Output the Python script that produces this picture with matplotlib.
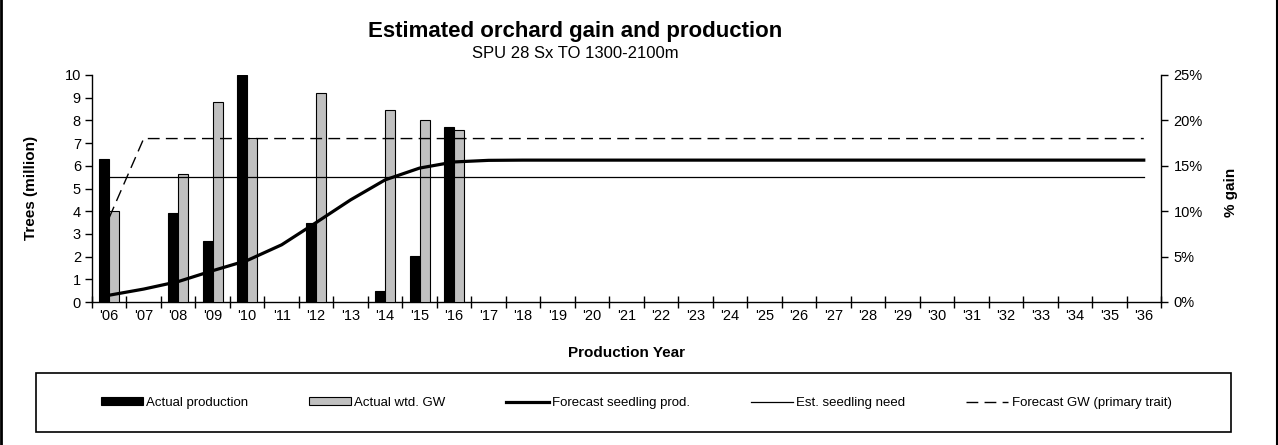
import numpy as np
import matplotlib
matplotlib.use('Agg')
import matplotlib.pyplot as plt
from matplotlib.lines import Line2D
from matplotlib.patches import Patch, Rectangle
from matplotlib.ticker import PercentFormatter

plt.rcParams['font.family'] = ['Liberation Sans', 'DejaVu Sans']

# Category labels (production years)
years = ["'06", "'07", "'08", "'09", "'10", "'11", "'12", "'13", "'14", "'15", "'16",
         "'17", "'18", "'19", "'20", "'21", "'22", "'23", "'24", "'25", "'26",
         "'27", "'28", "'29", "'30", "'31", "'32", "'33", "'34", "'35", "'36"]

# Actual data ('06 - '16), NaN = no bar
actual_prod = [6.3, np.nan, 3.94, 2.67, 10.0, np.nan, 3.5, np.nan, 0.47, 2.04, 7.71]      # million trees
actual_gw = [10.0, np.nan, 14.1, 22.0, 18.1, np.nan, 23.0, np.nan, 21.1, 20.0, 18.9]      # % gain

# Forecasts over the whole period
forecast_prod = [0.3, 0.57, 0.9, 1.38, 1.83, 2.52, 3.5, 4.5, 5.38, 5.9, 6.17,
                 6.24, 6.25, 6.25, 6.25, 6.25, 6.25, 6.25, 6.25, 6.25, 6.25,
                 6.25, 6.25, 6.25, 6.25, 6.25, 6.25, 6.25, 6.25, 6.25, 6.25]
seedling_need = [5.5, 5.5, 5.5, 5.5, 5.5, 5.5, 5.5, 5.5, 5.5, 5.5, 5.5,
                 5.5, 5.5, 5.5, 5.5, 5.5, 5.5, 5.5, 5.5, 5.5, 5.5,
                 5.5, 5.5, 5.5, 5.5, 5.5, 5.5, 5.5, 5.5, 5.5, 5.5]
forecast_gw = [9.3, 18, 18, 18, 18, 18, 18, 18, 18, 18, 18,
               18, 18, 18, 18, 18, 18, 18, 18, 18, 18,
               18, 18, 18, 18, 18, 18, 18, 18, 18, 18]

W, H = 1278, 445
fig = plt.figure(figsize=(W / 100, H / 100), dpi=100)
fig.patch.set_facecolor('white')

ax = fig.add_axes([92 / W, 1 - 302 / H, (1161 - 92) / W, (302 - 75) / H])
ax2 = ax.twinx()

x_all = np.arange(len(years))
x_bar = np.arange(len(actual_prod))
bw = 0.29

# Bars
ax.bar(x_bar - bw / 2, actual_prod, width=bw, color='black', edgecolor='black', linewidth=0.8, zorder=2)
ax2.bar(x_bar + bw / 2, actual_gw, width=bw, color='#c0c0c0', edgecolor='black', linewidth=0.8, zorder=2)

# Lines drawn on top (left-scale lines use ax's data transform)
ax2.plot(x_all, forecast_prod, color='black', lw=2.3, transform=ax.transData, zorder=4,
         solid_joinstyle='round')
ax2.plot(x_all, seedling_need, color='black', lw=0.9, transform=ax.transData, zorder=4)
ax2.plot(x_all, forecast_gw, color='black', lw=1.0, dashes=(8.5, 4.5), zorder=4)

# Axes limits and ticks
ax.set_xlim(-0.5, len(years) - 0.5)
ax.set_ylim(0, 10)
ax2.set_ylim(0, 25)
ax.set_yticks(np.arange(0, 11, 1))
ax2.set_yticks(np.arange(0, 26, 5))
ax2.yaxis.set_major_formatter(PercentFormatter(decimals=0))

ax.set_xticks(np.arange(-0.5, len(years), 1.0))
ax.set_xticklabels([])
ax.set_xticks(x_all, minor=True)
ax.set_xticklabels(years, minor=True)
ax.tick_params(axis='x', which='major', direction='inout', length=8, width=1)
ax.tick_params(axis='x', which='minor', length=0, pad=5, labelsize=10.5)
ax.tick_params(axis='y', direction='out', length=5, width=1, labelsize=10.5, pad=3)
ax2.tick_params(axis='y', direction='out', length=5, width=1, labelsize=10.5, pad=4)

for s in ['top', 'right']:
    ax.spines[s].set_visible(False)
for s in ['top', 'left', 'bottom']:
    ax2.spines[s].set_visible(False)
for sp in [ax.spines['left'], ax.spines['bottom'], ax2.spines['right']]:
    sp.set_linewidth(1.0)

ax.patch.set_visible(False)
ax2.patch.set_visible(False)

# Labels and titles
fig.text(31 / W, 1 - 188 / H, 'Trees (million)', rotation=90, ha='center', va='center',
         fontsize=11, fontweight='bold')
fig.text(1231 / W, 1 - 192 / H, '% gain', rotation=90, ha='center', va='center',
         fontsize=11, fontweight='bold')
fig.text(627 / W, 1 - 353 / H, 'Production Year', ha='center', va='center',
         fontsize=11, fontweight='bold')
fig.text(575 / W, 1 - 31 / H, 'Estimated orchard gain and production', ha='center', va='center',
         fontsize=16, fontweight='bold')
fig.text(575 / W, 1 - 53 / H, 'SPU 28 Sx TO 1300-2100m', ha='center', va='center', fontsize=12)

# Legend box and entries
fig.add_artist(Rectangle((36 / W, 1 - 432 / H), (1231 - 36) / W, (432 - 373) / H,
                         transform=fig.transFigure, fill=False, edgecolor='black', lw=1.2))
handles = [
    Patch(facecolor='black', edgecolor='black', lw=0.8),
    Patch(facecolor='#c0c0c0', edgecolor='black', lw=0.8),
    Line2D([], [], color='black', lw=2.3),
    Line2D([], [], color='black', lw=0.9),
    Line2D([], [], color='black', lw=1.0, dashes=(8.5, 4.5)),
]
labels = ['Actual production', 'Actual wtd. GW', 'Forecast seedling prod.',
          'Est. seedling need', 'Forecast GW (primary trait)']
fig.legend(handles, labels, loc='center', bbox_to_anchor=(636 / W, 1 - 403 / H),
           ncol=5, frameon=False, fontsize=9.5, handlelength=3.2, handleheight=0.55,
           handletextpad=0.25, columnspacing=4.6, borderpad=0, borderaxespad=0)

# Outer border lines at left and right edges
fig.add_artist(Line2D([0.001, 0.001], [0, 1], transform=fig.transFigure, color='black', lw=2))
fig.add_artist(Line2D([1 - 1.5 / W, 1 - 1.5 / W], [0, 1], transform=fig.transFigure, color='black', lw=1.5))

fig.savefig('out.png', dpi=100, facecolor='white')
